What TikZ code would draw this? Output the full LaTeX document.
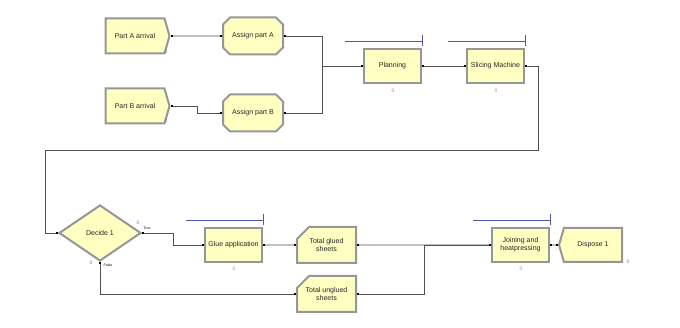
\documentclass[tikz,border=0pt]{standalone}
\usepackage{fontspec}
\setmainfont{Liberation Sans}
\usetikzlibrary{positioning,arrows.meta,shapes.geometric,shapes.misc,shapes.symbols}
\definecolor{ModuleFill}{RGB}{255,255,194}
\definecolor{BevelGray}{RGB}{150,150,150}
\definecolor{QueueBlue}{RGB}{85,85,165}
\definecolor{LinkGray}{RGB}{80,80,80}
\definecolor{CountBlue}{RGB}{120,120,210}
\definecolor{CountRed}{RGB}{200,120,120}
\tikzset{
  link/.style={{Square[length=1.8pt,width=1.8pt,black]}-{Square[length=1.8pt,width=1.8pt,black]},
    line width=0.7pt,draw=LinkGray},
  queuebar/.style={line width=0.6pt,draw=QueueBlue},
  module/.style={draw=BevelGray,fill=ModuleFill,line width=2pt,inner sep=1pt,
    align=center,font=\fontsize{7}{8}\selectfont,text=black!85},
  createbox/.style={module,signal,signal to=east,signal pointer angle=148,
    minimum width=64pt,minimum height=35pt},
  disposebox/.style={module,signal,signal to=west,signal pointer angle=148,
    minimum width=63pt,minimum height=34pt},
  assignbox/.style={module,chamfered rectangle,chamfered rectangle xsep=3.5pt,
    chamfered rectangle ysep=3.5pt,minimum width=60pt,minimum height=37pt},
  processbox/.style={module,rectangle,minimum width=57pt,minimum height=34pt},
  recordbox/.style={module,chamfered rectangle,chamfered rectangle corners=north west,
    chamfered rectangle xsep=6pt,chamfered rectangle ysep=6pt,
    minimum width=59pt,minimum height=36pt},
  decidebox/.style={module,diamond,aspect=1.45,inner sep=0pt,
    minimum width=82pt,minimum height=56pt},
  counter/.style={inner sep=0pt,font=\fontsize{5}{5}\selectfont},
  branch/.style={inner sep=0pt,font=\fontsize{3.5}{4}\selectfont}
}
\begin{document}
\begin{tikzpicture}[x=1pt,y=-1pt]
  \useasboundingbox (0,0) rectangle (680,328);
  \node[createbox] (prtA) at (135,36) {Part A arrival};
  \node[assignbox] (asgA) at (253,36) {Assign part A};
  \node[createbox] (prtB) at (135,106) {Part B arrival};
  \node[assignbox] (asgB) at (253,113) {Assign part B};
  \node[processbox] (plan) at (392.5,66) {Planning};
  \node[processbox] (slic) at (495.5,66) {Slicing Machine};
  \node[decidebox] (dec) at (100,233) {Decide 1};
  \node[processbox] (glue) at (233.5,245) {Glue application};
  \node[recordbox] (glued) at (326.5,245) {Total glued\\sheets};
  \node[recordbox] (ung) at (326.5,294) {Total unglued\\sheets};
  \node[processbox] (join) at (520.5,245) {Joining and\\heatpressing};
  \node[disposebox,right=8pt of join] (disp) {Dispose 1};

  \node[counter,text=CountBlue] (cntA) at (166,52) {0};
  \node[counter,text=CountBlue] (cntB) at (166,121) {0};
  \node[counter,text=CountRed] (cntP) at (393,91) {0};
  \node[counter,text=CountRed] (cntS) at (496,91) {0};
  \node[counter,text=CountBlue] (cntT) at (138,223) {0};
  \node[counter,text=CountBlue] (cntF) at (91,263) {0};
  \node[counter,text=CountRed] (cntG) at (234,269) {0};
  \node[counter,text=CountRed] (cntJ) at (521,269) {0};
  \node[counter,text=CountBlue] (cntD) at (628,262) {0};
  \node[branch] (lblT) at (147,228) {True};
  \node[branch] (lblF) at (108,265) {False};

  \foreach \n in {plan,slic,glue,join}
    \draw[queuebar] ([xshift=-18pt,yshift=7pt]\n.north west) -- ([yshift=7pt]\n.north east)
      ([yshift=2pt]\n.north east) -- ([yshift=13pt]\n.north east);

  \coordinate (turn) at (45,150);
  \draw[link] (prtA) -- (asgA);
  \draw[link] (prtB.east) -- ++(27,0) |- (asgB.west);
  \draw[link] (asgA.east) -- ++(38,0) |- (plan.west);
  \draw[link] (asgB.east) -- ++(38,0) |- (plan.west);
  \draw[link] (plan) -- (slic);
  \draw[link] (slic.east) -- ++(13,0) |- (turn) |- (dec.west);
  \draw[link] (dec.east) -- ++(31,0) |- (glue.west);
  \draw[link] (dec.south) |- (ung.west);
  \draw[link] (glue) -- (glued);
  \draw[link] (glued) -- (join);
  \draw[link] (ung.east) -- ++(67,0) |- (join.west);
  \draw[link] (join) -- (disp);
\end{tikzpicture}
\end{document}
